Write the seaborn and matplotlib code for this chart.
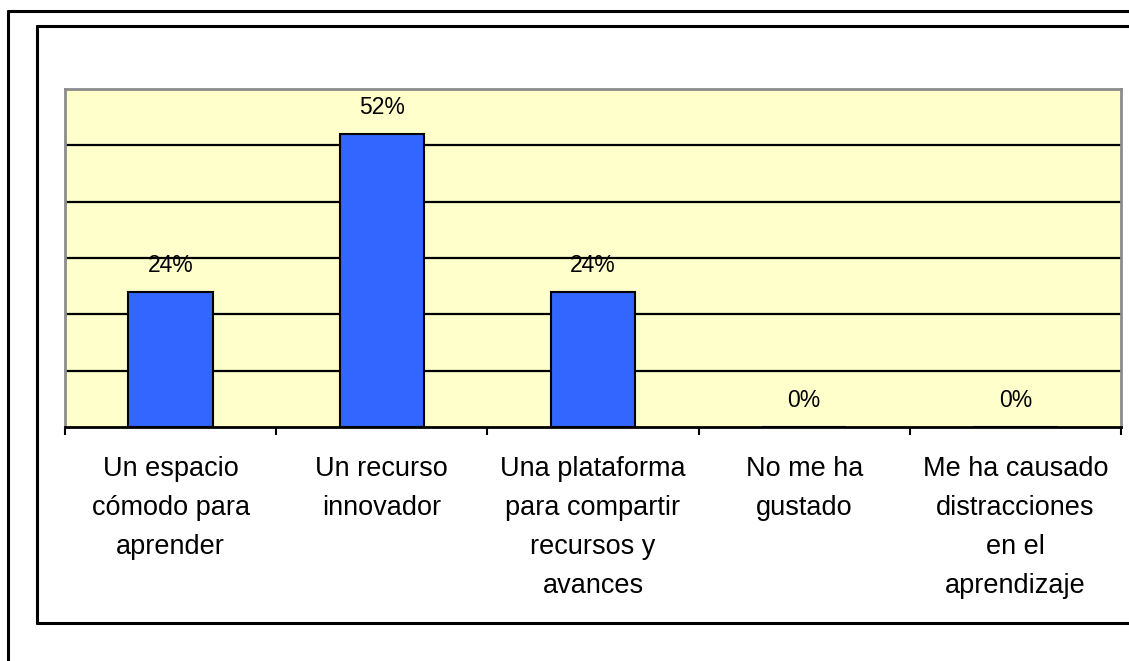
import matplotlib
matplotlib.use("Agg")
import matplotlib.pyplot as plt
import seaborn as sns
import pandas as pd
from matplotlib.lines import Line2D

categories = ["Un espacio\ncómodo para\naprender",
              "Un recurso\ninnovador",
              "Una plataforma\npara compartir\nrecursos y\navances",
              "No me ha\ngustado",
              "Me ha causado\ndistracciones\nen el\naprendizaje"]
values = [24, 52, 24, 0, 0]
value_labels = ["24%", "52%", "24%", "0%", "0%"]

sns.set_theme(style="white")
plt.rcParams['font.family'] = ['Liberation Sans', 'DejaVu Sans']

W, H = 1129, 661
fig = plt.figure(figsize=(W / 100, H / 100), dpi=100)
fig.patch.set_facecolor("white")

def fx(x):
    return x / W

def fy(y):
    return 1 - y / H

# Frames
lw = 2.2
fig.add_artist(Line2D([fx(8), fx(8)], [fy(11), 0], color="black", lw=lw))
fig.add_artist(Line2D([fx(8), 1], [fy(11), fy(11)], color="black", lw=lw))
fig.add_artist(Line2D([fx(37), fx(37)], [fy(26), fy(623)], color="black", lw=lw))
fig.add_artist(Line2D([fx(37), 1], [fy(26), fy(26)], color="black", lw=lw))
fig.add_artist(Line2D([fx(37), 1], [fy(623), fy(623)], color="black", lw=lw))

ax = fig.add_axes([fx(65), fy(427), fx(1121) - fx(65), fy(89) - fy(427)])
ax.set_facecolor("#FFFFCC")

df = pd.DataFrame({"cat": categories, "val": values})
sns.barplot(data=df, x="cat", y="val", ax=ax, color="#3366FF", width=0.4,
            edgecolor="black", linewidth=1.5, saturation=1, zorder=3)

ax.set_xlim(-0.5, len(categories) - 0.5)
ax.set_ylim(0, 60)
ax.set_yticks([10, 20, 30, 40, 50])
ax.yaxis.grid(True, color="black", linewidth=1.6, zorder=1)
ax.set_axisbelow(True)
ax.tick_params(axis="y", left=False, labelleft=False)
ax.set_xlabel("")
ax.set_ylabel("")

for side in ["top", "left", "right"]:
    ax.spines[side].set_color("#8C8C8C")
    ax.spines[side].set_linewidth(2)
ax.spines["bottom"].set_color("black")
ax.spines["bottom"].set_linewidth(2)
ax.spines["bottom"].set_zorder(4)

ax.set_xticks(range(len(categories)))
ax.set_xticklabels(categories, fontsize=19.5, linespacing=1.65, ha="center",
                   va="top", multialignment="center")
ax.tick_params(axis="x", which="major", bottom=False, length=0, pad=21,
               colors="black")
ax.set_xticks([i - 0.5 for i in range(len(categories) + 1)], minor=True)
ax.tick_params(axis="x", which="minor", bottom=True, length=6, width=1.5,
               color="black", direction="out")

for i, (v, lab) in enumerate(zip(values, value_labels)):
    ax.annotate(lab, (i, v), xytext=(0, 19), textcoords="offset points",
                ha="center", va="center", fontsize=16.5, color="black", zorder=5)

fig.savefig("out.png", dpi=100, facecolor="white")
